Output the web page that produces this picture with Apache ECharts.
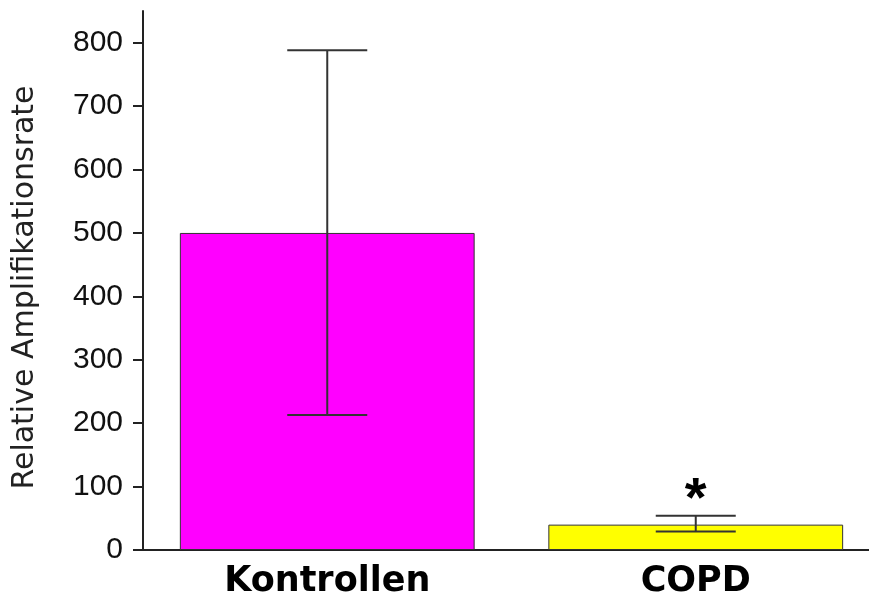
<!DOCTYPE html>
<html>
<head>
<meta charset="utf-8">
<script src="https://cdn.jsdelivr.net/npm/echarts@6/dist/echarts.min.js"></script>
<style>html,body{margin:0;padding:0;background:#fff;overflow:hidden}#c{width:880px;height:607px}</style>
</head>
<body>
<div id="c"></div>
<script>
const categories = ['Kontrollen', 'COPD'];
const means = [500, 40];
const errLow = [213, 29];
const errHigh = [788, 54];
const significance = ['', '*'];
const yTicks = [0, 100, 200, 300, 400, 500, 600, 700, 800];
const yMax = 850;
const barColors = ['#FF00FF', '#FFFF00'];

const chart = echarts.init(document.getElementById('c'), null, {renderer: 'canvas'});
const errData = categories.map((c, i) => [i, errLow[i], errHigh[i], significance[i]]);

chart.setOption({
  animation: false,
  backgroundColor: '#fff',
  grid: {left: 143, right: 0, top: 11, bottom: 57},
  xAxis: {
    type: 'category',
    data: categories,
    axisLine: {lineStyle: {color: '#222', width: 2}},
    axisTick: {show: false},
    axisLabel: {color: '#000', fontSize: 35, fontWeight: 'bold', fontFamily: 'DejaVu Sans', margin: 14}
  },
  yAxis: {
    type: 'value',
    min: 0, max: yMax,
    name: 'Relative Amplifikationsrate',
    nameLocation: 'middle',
    nameGap: 103,
    nameTextStyle: {color: '#222', fontSize: 30, fontFamily: 'DejaVu Sans', padding: [0, 14, 0, 0]},
    axisLine: {show: true, lineStyle: {color: '#222', width: 2}},
    axisTick: {show: true, length: 10, lineStyle: {color: '#222', width: 2}, customValues: yTicks},
    axisLabel: {color: '#111', fontSize: 30, fontFamily: 'Liberation Sans', margin: 20, customValues: yTicks},
    splitLine: {show: false}
  },
  series: [
    {
      type: 'bar',
      barWidth: '80%',
      data: means.map((v, i) => ({value: v, itemStyle: {color: barColors[i]}})),
      itemStyle: {borderColor: '#333', borderWidth: 1}
    },
    {
      type: 'custom',
      data: errData,
      z: 10,
      renderItem: function (params, api) {
        const x = api.value(0);
        const lo = api.coord([x, api.value(1)]);
        const hi = api.coord([x, api.value(2)]);
        const hw = 40;
        const style = {stroke: '#333', lineWidth: 2};
        const children = [
          {type: 'line', shape: {x1: lo[0], y1: lo[1], x2: hi[0], y2: hi[1]}, style: style},
          {type: 'line', shape: {x1: hi[0] - hw, y1: hi[1], x2: hi[0] + hw, y2: hi[1]}, style: style},
          {type: 'line', shape: {x1: lo[0] - hw, y1: lo[1], x2: lo[0] + hw, y2: lo[1]}, style: style}
        ];
        const s = significance[params.dataIndex];
        if (s) {
          children.push({type: 'text', style: {text: s, x: hi[0], y: hi[1] + 13, align: 'center', verticalAlign: 'bottom', fontSize: 56, fontWeight: 'bold', fontFamily: 'Liberation Sans', fill: '#000'}});
        }
        return {type: 'group', children: children};
      }
    }
  ]
});
</script>
</body>
</html>
